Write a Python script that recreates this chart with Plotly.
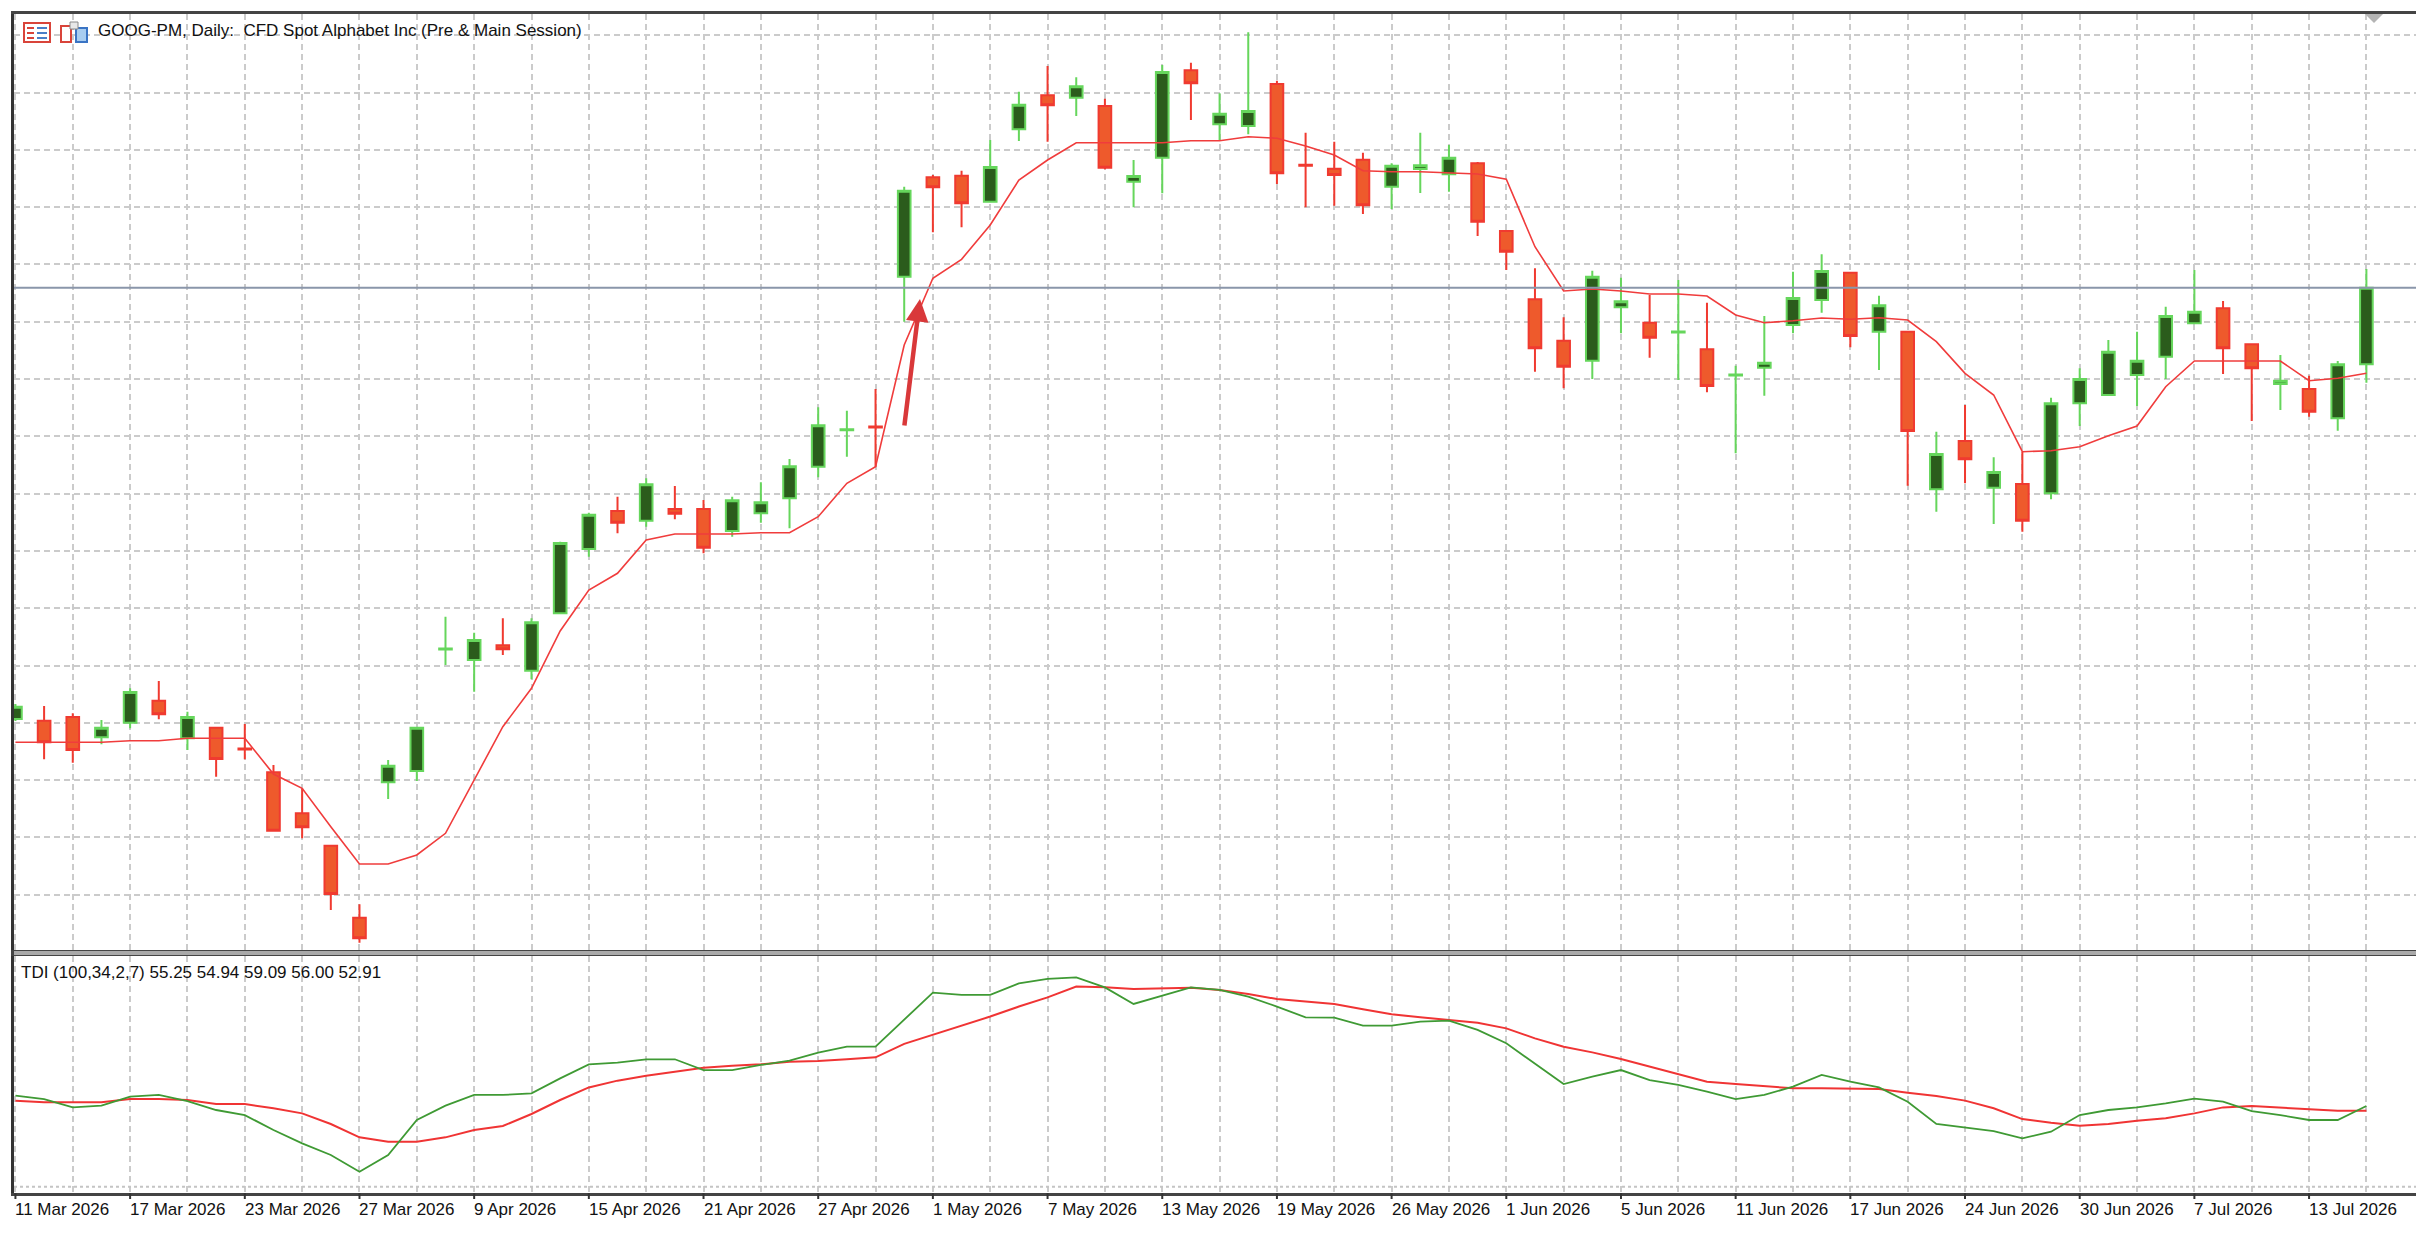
import pandas as pd
import plotly.graph_objects as go

# ---------------- data ----------------
dates = [
    "2026-03-11", "2026-03-12", "2026-03-13", "2026-03-16", "2026-03-17", "2026-03-18",
    "2026-03-19", "2026-03-20", "2026-03-23", "2026-03-24", "2026-03-25", "2026-03-26",
    "2026-03-27", "2026-04-06", "2026-04-07", "2026-04-08", "2026-04-09", "2026-04-10",
    "2026-04-13", "2026-04-14", "2026-04-15", "2026-04-16", "2026-04-17", "2026-04-20",
    "2026-04-21", "2026-04-22", "2026-04-23", "2026-04-24", "2026-04-27", "2026-04-28",
    "2026-04-29", "2026-04-30", "2026-05-01", "2026-05-04", "2026-05-05", "2026-05-06",
    "2026-05-07", "2026-05-08", "2026-05-11", "2026-05-12", "2026-05-13", "2026-05-14",
    "2026-05-15", "2026-05-18", "2026-05-19", "2026-05-20", "2026-05-21", "2026-05-22",
    "2026-05-26", "2026-05-27", "2026-05-28", "2026-05-29", "2026-06-01", "2026-06-02",
    "2026-06-03", "2026-06-04", "2026-06-05", "2026-06-08", "2026-06-09", "2026-06-10",
    "2026-06-11", "2026-06-12", "2026-06-15", "2026-06-16", "2026-06-17", "2026-06-18",
    "2026-06-22", "2026-06-23", "2026-06-24", "2026-06-25", "2026-06-26", "2026-06-29",
    "2026-06-30", "2026-07-01", "2026-07-02", "2026-07-06", "2026-07-07", "2026-07-08",
    "2026-07-09", "2026-07-10", "2026-07-13", "2026-07-14", "2026-07-15",
]

opens = [
    268.10, 267.93, 268.30, 266.27, 267.73, 269.93, 266.17, 267.23, 265.15, 262.77,
    258.67, 255.43, 248.23, 261.77, 262.90, 275.05, 274.00, 275.47, 272.93, 278.67,
    285.10, 288.90, 287.93, 289.10, 289.10, 286.90, 288.67, 290.17, 293.33, 296.98,
    297.35, 312.33, 322.27, 322.43, 319.83, 327.07, 330.47, 330.23, 329.40, 321.83,
    324.23, 332.97, 327.57, 327.40, 331.60, 323.52, 323.13, 324.03, 321.33, 323.10,
    322.57, 323.67, 316.90, 310.07, 305.93, 303.93, 309.27, 307.73, 306.75, 305.07,
    302.45, 303.23, 307.50, 310.00, 312.73, 306.83, 306.83, 291.07, 295.90, 291.23,
    291.60, 290.67, 299.67, 300.50, 302.50, 304.33, 307.67, 309.17, 305.57, 301.60,
    301.10, 298.17, 303.57,
]
highs = [
    269.60, 269.40, 268.67, 268.00, 271.17, 271.90, 268.83, 267.30, 267.60, 263.50,
    261.17, 255.50, 249.57, 264.00, 267.30, 278.33, 276.73, 278.17, 278.17, 285.83,
    288.73, 290.33, 292.17, 291.40, 290.00, 290.33, 291.77, 294.10, 299.27, 298.93,
    301.10, 321.33, 322.50, 322.93, 326.00, 330.83, 333.40, 332.27, 330.13, 324.00,
    333.50, 333.73, 330.67, 336.77, 331.93, 326.73, 325.83, 324.73, 323.67, 326.73,
    325.50, 323.80, 317.00, 313.17, 308.27, 312.93, 312.23, 310.50, 312.00, 309.73,
    303.43, 308.40, 312.83, 314.57, 312.80, 310.43, 306.90, 296.83, 299.50, 294.27,
    294.83, 300.23, 303.17, 306.00, 306.83, 309.33, 313.00, 309.90, 305.60, 304.50,
    302.43, 303.90, 313.10,
]
lows = [
    267.90, 264.07, 263.73, 265.57, 267.17, 268.07, 265.00, 262.33, 264.07, 256.90,
    256.17, 249.00, 245.73, 260.10, 261.90, 273.50, 270.83, 274.50, 272.07, 278.65,
    284.33, 286.67, 287.33, 288.07, 284.67, 286.33, 287.73, 287.17, 292.27, 294.33,
    293.33, 307.83, 316.77, 317.27, 319.80, 325.90, 325.83, 328.40, 323.07, 319.27,
    320.67, 328.00, 326.00, 326.57, 321.60, 319.27, 319.43, 318.60, 319.10, 320.70,
    320.83, 316.40, 313.00, 302.83, 301.17, 302.10, 306.67, 304.23, 302.00, 300.77,
    294.67, 300.43, 306.67, 308.73, 305.27, 303.00, 291.43, 288.83, 291.67, 287.60,
    286.83, 290.07, 297.40, 300.50, 299.40, 302.10, 307.60, 302.60, 297.90, 299.00,
    298.33, 296.93, 301.73,
]
closes = [
    269.33, 265.77, 265.00, 267.23, 270.80, 268.57, 268.30, 264.10, 265.05, 256.93,
    257.27, 250.60, 246.17, 263.43, 267.23, 275.15, 276.00, 275.07, 277.77, 285.70,
    288.53, 287.73, 291.57, 288.63, 285.23, 289.97, 289.77, 293.37, 297.47, 297.08,
    297.25, 320.93, 321.27, 319.67, 323.30, 329.53, 329.47, 331.37, 323.23, 322.40,
    332.80, 331.67, 328.63, 328.90, 322.67, 323.42, 322.50, 319.47, 323.43, 323.47,
    324.23, 317.83, 314.83, 305.17, 303.33, 312.33, 309.87, 306.23, 306.85, 301.40,
    302.55, 303.73, 310.20, 312.90, 306.40, 309.47, 296.90, 294.60, 294.07, 292.80,
    287.93, 299.67, 302.10, 304.83, 303.93, 308.40, 308.83, 305.17, 303.17, 301.93,
    298.83, 303.57, 311.23,
]

# red moving average on the price window
ma_line = [
    265.77, 265.77, 265.77, 265.77, 265.93, 265.93, 266.17, 266.17, 266.17, 262.60,
    261.17, 257.33, 253.60, 253.60, 254.50, 256.67, 262.00, 267.33, 271.17, 276.90,
    281.00, 282.67, 286.00, 286.60, 286.60, 286.60, 286.73, 286.73, 288.33, 291.67,
    293.33, 305.50, 312.17, 314.07, 317.50, 322.00, 324.00, 325.73, 325.73, 325.73,
    325.73, 325.93, 325.93, 326.33, 326.17, 325.40, 324.50, 322.93, 322.83, 322.83,
    322.73, 322.60, 322.07, 315.33, 310.90, 311.10, 310.90, 310.60, 310.60, 310.40,
    308.50, 307.73, 307.93, 308.20, 308.07, 308.23, 308.00, 305.83, 302.67, 300.50,
    294.83, 294.93, 295.33, 296.43, 297.40, 301.33, 303.90, 303.90, 303.90, 303.90,
    301.93, 302.17, 302.67,
]

# TDI sub-window: RSI price line (green) and trade signal line (red)
tdi_price = [
    55.92, 55.70, 55.16, 55.27, 55.86, 55.97, 55.57, 54.99, 54.66, 53.69,
    52.82, 52.06, 50.97, 52.06, 54.34, 55.27, 55.97, 55.97, 56.07, 57.05,
    57.96, 58.07, 58.29, 58.29, 57.59, 57.59, 57.92, 58.20, 58.72, 59.11,
    59.11, 60.85, 62.63, 62.48, 62.48, 63.23, 63.52, 63.62, 62.97, 61.89,
    62.43, 62.97, 62.80, 62.37, 61.72, 61.02, 61.00, 60.48, 60.48, 60.74,
    60.80, 60.20, 59.33, 58.03, 56.68, 57.16, 57.59, 56.94, 56.62, 56.18,
    55.70, 55.97, 56.51, 57.27, 56.83, 56.46, 55.53, 54.08, 53.84, 53.62,
    53.14, 53.58, 54.66, 54.99, 55.16, 55.42, 55.73, 55.53, 54.92, 54.66,
    54.34, 54.34, 55.25,
]
tdi_signal = [
    55.60, 55.49, 55.49, 55.49, 55.70, 55.70, 55.64, 55.38, 55.38, 55.10,
    54.77, 54.08, 53.21, 52.93, 52.93, 53.21, 53.69, 53.95, 54.73, 55.64,
    56.46, 56.90, 57.22, 57.48, 57.74, 57.87, 57.96, 58.13, 58.18, 58.29,
    58.42, 59.29, 59.87, 60.48, 61.07, 61.72, 62.32, 63.02, 62.97, 62.87,
    62.91, 62.95, 62.80, 62.54, 62.21, 62.04, 61.89, 61.54, 61.22, 61.02,
    60.85, 60.67, 60.30, 59.65, 59.11, 58.74, 58.31, 57.81, 57.33, 56.83,
    56.68, 56.55, 56.40, 56.40, 56.40, 56.36, 56.12, 55.90, 55.60, 55.10,
    54.40, 54.16, 53.97, 54.08, 54.29, 54.45, 54.77, 55.16, 55.25, 55.16,
    55.03, 54.94, 54.94,
]
tdi_level = 50

title_text = "GOOG-PM, Daily:  CFD Spot Alphabet Inc (Pre & Main Session)"
tdi_text = "TDI (100,34,2,7) 55.25 54.94 59.09 56.00 52.91"

# ---------------- styling ----------------
# the page body adds an 8px margin, so the figure is 16px smaller than the window
OFF = 8
W, H = 2424 - 2 * OFF, 1244 - 2 * OFF
ML, MR, MT, MB = 6, 0, 6, 43
FONT = "Liberation Sans"
FS = 17
GRID = "#cbcbcb"
PW, PH = W - ML - MR, H - MT - MB


# helpers: window pixel -> paper fraction
def px(X):
    return (X - OFF - ML) / PW


def py(Y):
    return (H - MB - (Y - OFF)) / PH


labels = [f"{d.day} {d.strftime('%b %Y')}" for d in pd.to_datetime(dates)]
label_dates = dates[::4]
label_text = labels[::4]

fig = go.Figure()

fig.add_trace(go.Candlestick(
    x=dates, open=opens, high=highs, low=lows, close=closes,
    increasing=dict(line=dict(color="#66d65c", width=2), fillcolor="#2b5c1c"),
    decreasing=dict(line=dict(color="#f03a30", width=2), fillcolor="#ee5a2c"),
    xaxis="x", yaxis="y", showlegend=False, hoverinfo="skip",
))
fig.add_trace(go.Scatter(
    x=dates, y=ma_line, mode="lines", line=dict(color="#f03c3c", width=1.6),
    xaxis="x", yaxis="y", showlegend=False, hoverinfo="skip",
))
fig.add_trace(go.Scatter(
    x=dates, y=tdi_signal, mode="lines", line=dict(color="#f03434", width=2),
    xaxis="x2", yaxis="y2", showlegend=False, hoverinfo="skip",
))
fig.add_trace(go.Scatter(
    x=dates, y=tdi_price, mode="lines", line=dict(color="#3f9a34", width=1.8),
    xaxis="x2", yaxis="y2", showlegend=False, hoverinfo="skip",
))

xgrid = dict(
    type="category", range=[-0.05, 83.73], tickmode="array", tickvals=dates[::2],
    showticklabels=False, ticks="", showgrid=True, gridcolor=GRID, gridwidth=1.5,
    griddash="6px,4px", showline=True, linecolor="#444", linewidth=2.5, mirror=True,
    zeroline=False, fixedrange=True,
)

fig.update_layout(
    width=W, height=H,
    margin=dict(l=ML, r=MR, t=MT, b=MB),
    paper_bgcolor="white", plot_bgcolor="white",
    boxgap=0.37,
    xaxis=dict(xgrid, anchor="y", rangeslider=dict(visible=False)),
    xaxis2=dict(xgrid, anchor="y2", matches="x"),
    yaxis=dict(
        domain=[py(950), 1], range=[245.0, 338.6], tick0=250.53, dtick=5.73,
        showticklabels=False, ticks="", showgrid=True, gridcolor=GRID, gridwidth=1.5,
        griddash="6px,4px", showline=True, linecolor="#333", linewidth=2.5,
        zeroline=False, fixedrange=True,
    ),
    yaxis2=dict(
        domain=[0, py(956)], range=[49.59, 65.01], showticklabels=False, ticks="",
        showgrid=False, showline=True, linecolor="#333", linewidth=2.5,
        zeroline=False, fixedrange=True,
    ),
    font=dict(family=FONT, size=FS, color="#222"),
)

shapes = []
# separator between the two windows
shapes.append(dict(type="rect", xref="paper", yref="paper", x0=0, x1=1,
                   y0=py(955), y1=py(951), fillcolor="#a9a9a9", line=dict(width=0),
                   layer="above"))
# bid line at last close
shapes.append(dict(type="line", xref="paper", yref="y", x0=0, x1=1,
                   y0=closes[-1], y1=closes[-1], line=dict(color="#8a96aa", width=2)))
# TDI level line
shapes.append(dict(type="line", xref="paper", yref="y2", x0=0, x1=1,
                   y0=tdi_level, y1=tdi_level,
                   line=dict(color="#c4c4c4", width=2, dash="dot")))
# tick marks under the date labels
for d in label_dates:
    shapes.append(dict(type="line", xref="x2", yref="paper", x0=d, x1=d,
                       y0=0, y1=-6 / PH, line=dict(color="#333", width=2)))
# chart shift marker
shapes.append(dict(type="path", xref="paper", yref="paper",
                   path=f"M {px(2365)} {py(14)} L {px(2383)} {py(14)} L {px(2374)} {py(23)} Z",
                   fillcolor="#b4b4b4", line=dict(width=0)))
# window icons next to the title
shapes.append(dict(type="rect", xref="paper", yref="paper", x0=px(24), x1=px(50),
                   y0=py(42), y1=py(23), fillcolor="white",
                   line=dict(color="#d9443a", width=2)))
for Y in (28, 33, 38):
    shapes.append(dict(type="line", xref="paper", yref="paper", x0=px(27), x1=px(34),
                       y0=py(Y), y1=py(Y), line=dict(color="#d9443a", width=2)))
    shapes.append(dict(type="line", xref="paper", yref="paper", x0=px(37), x1=px(47),
                       y0=py(Y), y1=py(Y), line=dict(color="#4a7fc8", width=2)))
shapes.append(dict(type="rect", xref="paper", yref="paper", x0=px(61), x1=px(71),
                   y0=py(42), y1=py(26), fillcolor="white",
                   line=dict(color="#d9443a", width=2)))
shapes.append(dict(type="rect", xref="paper", yref="paper", x0=px(76), x1=px(87),
                   y0=py(42), y1=py(28), fillcolor="#a8cdf0",
                   line=dict(color="#3a74c4", width=2)))
shapes.append(dict(type="rect", xref="paper", yref="paper", x0=px(70), x1=px(78),
                   y0=py(29), y1=py(22), fillcolor="#e8e8e8",
                   line=dict(color="#8a8a8a", width=1)))

annotations = [
    dict(text=title_text, xref="paper", yref="paper", x=px(96), y=py(31),
         xanchor="left", yanchor="middle", showarrow=False,
         font=dict(family=FONT, size=FS, color="#111")),
    dict(text=tdi_text, xref="paper", yref="paper", x=px(19), y=py(972),
         xanchor="left", yanchor="middle", showarrow=False,
         font=dict(family=FONT, size=FS, color="#111")),
    # hand-drawn arrow on the chart
    dict(x=31.55, y=310.1, ax=31.0, ay=297.3, xref="x", yref="y", axref="x", ayref="y",
         text="", showarrow=True, arrowhead=2, arrowsize=1, arrowwidth=4.5,
         arrowcolor="#d9383a", standoff=0, startstandoff=0),
]
for d, t in zip(label_dates, label_text):
    annotations.append(dict(text=t, x=d, xref="x2", yref="paper", y=-5 / PH,
                            xanchor="left", yanchor="top", showarrow=False, xshift=-2,
                            font=dict(family=FONT, size=FS, color="#111")))

fig.update_layout(shapes=shapes, annotations=annotations)

fig.write_html("out.html")
